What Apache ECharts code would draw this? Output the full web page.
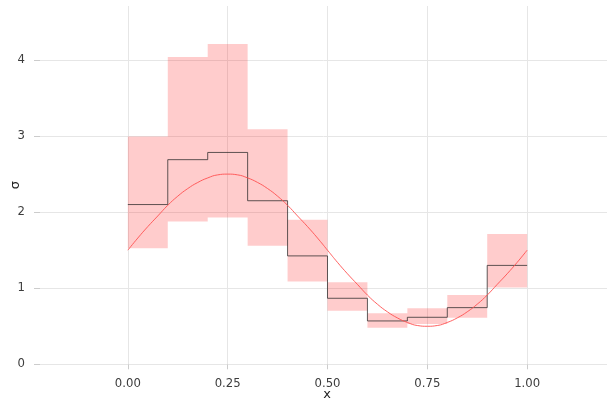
<!DOCTYPE html>
<html>
<head>
<meta charset="utf-8">
<script src="https://cdn.jsdelivr.net/npm/echarts@6/dist/echarts.min.js"></script>
<style>html,body{margin:0;padding:0;background:#fff}#c{width:607px;height:400px}</style>
</head>
<body>
<div id="c"></div>
<script>
// Bin edges (x) and per-bin values
var binEdges = [0, 0.1, 0.2, 0.3, 0.4, 0.5, 0.6, 0.7, 0.8, 0.9, 1.0];
var stepValues = [2.10, 2.69, 2.785, 2.15, 1.425, 0.868, 0.57, 0.618, 0.745, 1.30];
var ribbonLower = [1.526, 1.876, 1.93, 1.56, 1.087, 0.705, 0.482, 0.53, 0.613, 1.008];
var ribbonUpper = [2.995, 4.04, 4.21, 3.09, 1.90, 1.079, 0.671, 0.737, 0.912, 1.714];
// Smooth red curve
var curveX = [0, 0.025, 0.05, 0.075, 0.1, 0.125, 0.15, 0.175, 0.2, 0.225, 0.25, 0.275, 0.3, 0.325, 0.35, 0.375, 0.4, 0.425, 0.45, 0.475, 0.5, 0.525, 0.55, 0.575, 0.6, 0.625, 0.65, 0.675, 0.7, 0.725, 0.75, 0.775, 0.8, 0.825, 0.85, 0.875, 0.9, 0.925, 0.95, 0.975, 1.0];
var curveY = [1.50, 1.66, 1.81, 1.95, 2.09, 2.21, 2.31, 2.39, 2.45, 2.49, 2.50, 2.49, 2.45, 2.39, 2.31, 2.21, 2.09, 1.95, 1.81, 1.66, 1.50, 1.34, 1.19, 1.05, 0.91, 0.79, 0.69, 0.61, 0.55, 0.51, 0.50, 0.51, 0.55, 0.61, 0.69, 0.79, 0.91, 1.05, 1.19, 1.34, 1.50];
// Tick labels
var xTicks = [0, 0.25, 0.5, 0.75, 1.0];
var yTicks = [0, 1, 2, 3, 4];

var stepData = [];
for (var i = 0; i < stepValues.length; i++) {
  stepData.push([binEdges[i], stepValues[i]]);
  stepData.push([binEdges[i + 1], stepValues[i]]);
}
var curveData = curveX.map(function (x, i) { return [x, curveY[i]]; });

var chart = echarts.init(document.getElementById('c'), null, {renderer: 'canvas'});
var font = 'DejaVu Sans';
chart.setOption({
  animation: false,
  backgroundColor: '#ffffff',
  grid: {left: 40, right: 0, top: 6, bottom: 35.7, containLabel: false, outerBoundsMode: 'none'},
  xAxis: {
    type: 'value', min: -0.22, max: 1.2,
    name: 'x', nameLocation: 'middle', nameGap: 24, nameMoveOverlap: false,
    nameTextStyle: {fontFamily: font, fontSize: 13, color: '#222', padding: [0, 0, 0, 7]},
    axisLine: {show: false, onZero: false},
    axisTick: {show: true, length: 5, lineStyle: {color: '#cccccc'}, customValues: xTicks},
    axisLabel: {customValues: xTicks, fontFamily: font, fontSize: 11.7, color: '#3d3d3d', margin: 14,
      formatter: function (v) { return v.toFixed(2); }},
    splitLine: {show: true, lineStyle: {color: '#e6e6e6', width: 1}}
  },
  yAxis: {
    type: 'value', min: 0, max: 4.71,
    name: 'σ', nameLocation: 'middle', nameGap: 18, nameRotate: 90, nameMoveOverlap: false,
    nameTextStyle: {fontFamily: font, fontSize: 13, color: '#222'},
    axisLine: {show: false, onZero: false},
    axisTick: {show: true, length: 6, lineStyle: {color: '#cccccc'}, customValues: yTicks},
    axisLabel: {customValues: yTicks, fontFamily: font, fontSize: 11.7, color: '#3d3d3d', margin: 15},
    splitLine: {show: true, lineStyle: {color: '#e6e6e6', width: 1}}
  },
  series: [
    {
      type: 'custom',
      data: [0],
      silent: true,
      z: 1,
      renderItem: function (params, api) {
        var pts = [];
        for (var i = 0; i < ribbonUpper.length; i++) {
          pts.push(api.coord([binEdges[i], ribbonUpper[i]]));
          pts.push(api.coord([binEdges[i + 1], ribbonUpper[i]]));
        }
        for (var j = ribbonLower.length - 1; j >= 0; j--) {
          pts.push(api.coord([binEdges[j + 1], ribbonLower[j]]));
          pts.push(api.coord([binEdges[j], ribbonLower[j]]));
        }
        return {type: 'polygon', shape: {points: pts}, style: {fill: 'rgba(255,0,0,0.2)', stroke: null}};
      }
    },
    {
      type: 'line', data: stepData, showSymbol: false, silent: true, z: 3,
      lineStyle: {color: 'rgba(40,40,40,0.75)', width: 1}
    },
    {
      type: 'line', data: curveData, showSymbol: false, silent: true, smooth: true, z: 4,
      lineStyle: {color: '#ff5050', width: 0.9}
    }
  ]
});
</script>
</body>
</html>
